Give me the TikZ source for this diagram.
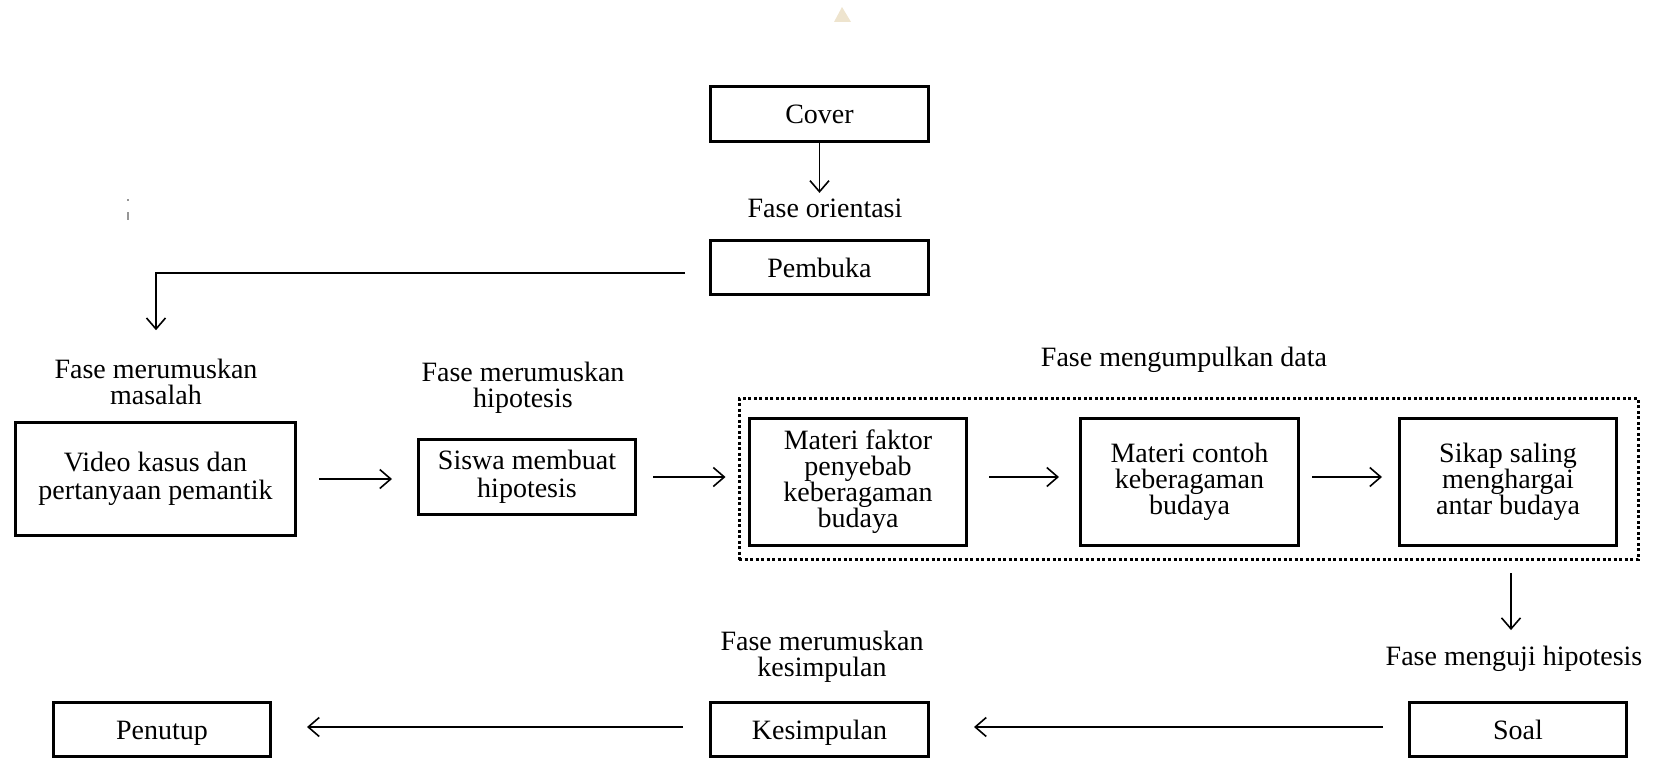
\documentclass[tikz,border=0pt]{standalone}
\usepackage{fontspec}
\setmainfont{Liberation Serif}
\usetikzlibrary{arrows.meta}
\definecolor{beige}{RGB}{238,228,206}
\definecolor{tickgray}{RGB}{150,150,150}
\begin{document}
\begin{tikzpicture}[x=1pt,y=-1pt,
  box/.style={draw,line width=3pt,align=center,inner sep=0pt,font=\fontsize{28}{26}\selectfont},
  onebox/.style={box,text height=22pt,text depth=3pt},
  lbl/.style={align=center,inner sep=0pt,font=\fontsize{28}{25.5}\selectfont},
  dotbox/.style={draw,line width=3pt,dash pattern=on 3pt off 2.5pt,inner sep=0pt},
  arr/.style={-{Straight Barb[length=11pt,width=19pt]},line width=1.6pt}]
\useasboundingbox (0,0) rectangle (1657,760);
% small artefacts
\fill[beige] (834,22) -- (842,7) -- (851,22) -- cycle;
\fill[tickgray] (127,199) rectangle (129,201);
\fill[tickgray] (127,212) rectangle (129,220);
% nodes
\node[onebox,minimum width=218pt,minimum height=55pt] (cover) at (819.5,114) {Cover};
\node[lbl] (orient) at (825,208.5) {Fase orientasi};
\node[onebox,minimum width=218pt,minimum height=54pt] (pembuka) at (819.5,267.5) {Pembuka};
\node[lbl] (masalah) at (156,382) {Fase merumuskan\\masalah};
\node[box,minimum width=280pt,minimum height=113pt,font=\fontsize{28}{28}\selectfont] (video) at (155.5,479) {Video kasus dan\\pertanyaan pemantik};
\node[lbl] (hip) at (523,388) {Fase merumuskan\\hipotesis};
\node[box,minimum width=217pt,minimum height=75pt,font=\fontsize{28}{28}\selectfont] (siswa) at (527,477) {Siswa membuat\\hipotesis};
\node[lbl] (kumpul) at (1184,360) {Fase mengumpulkan data};
\node[dotbox,minimum width=899pt,minimum height=161pt] (data) at (1188.5,479) {};
\node[box,minimum width=217pt,minimum height=127pt] (mf) at (858,482) {Materi faktor\\penyebab\\keberagaman\\budaya};
\node[box,minimum width=218pt,minimum height=127pt] (mc) at (1189.5,482) {Materi contoh\\keberagaman\\budaya};
\node[box,minimum width=217pt,minimum height=127pt] (sikap) at (1508,482) {Sikap saling\\menghargai\\antar budaya};
\node[lbl] (uji) at (1514,659) {Fase menguji hipotesis};
\node[lbl] (kes) at (822,657) {Fase merumuskan\\kesimpulan};
\node[onebox,minimum width=217pt,minimum height=54pt] (soal) at (1518,729.5) {Soal};
\node[onebox,minimum width=218pt,minimum height=54pt] (kesimpulan) at (819.5,729.5) {Kesimpulan};
\node[onebox,minimum width=217pt,minimum height=54pt] (penutup) at (162,729.5) {Penutup};
% connectors
\draw[arr,shorten >=6pt] (cover.south) -- (cover.south |- orient.north);
\draw[arr,shorten <=24pt,shorten >=29pt] ([yshift=-5.5pt]pembuka.west) -| (masalah.north);
\draw[arr,shorten <=22pt,shorten >=25pt] (video.east) -- (video.east -| siswa.west);
\draw[arr,shorten <=16pt,shorten >=12pt] (siswa.east) -- (siswa.east -| data.west);
\draw[arr,shorten <=21pt,shorten >=20pt] (mf.east |- siswa.east) -- (mc.west |- siswa.east);
\draw[arr,shorten <=12pt,shorten >=16pt] (mc.east |- siswa.east) -- (sikap.west |- siswa.east);
\draw[arr,shorten <=12pt,shorten >=16pt] ([xshift=3pt]sikap.south |- data.south) -- ([xshift=3pt]sikap.south |- uji.north);
\draw[arr,shorten <=25pt,shorten >=44pt] ([yshift=2.5pt]soal.west) -- ([yshift=2.5pt]soal.west -| kesimpulan.east);
\draw[arr,shorten <=26pt,shorten >=35pt] ([yshift=2.5pt]kesimpulan.west) -- ([yshift=2.5pt]kesimpulan.west -| penutup.east);
\end{tikzpicture}
\end{document}
